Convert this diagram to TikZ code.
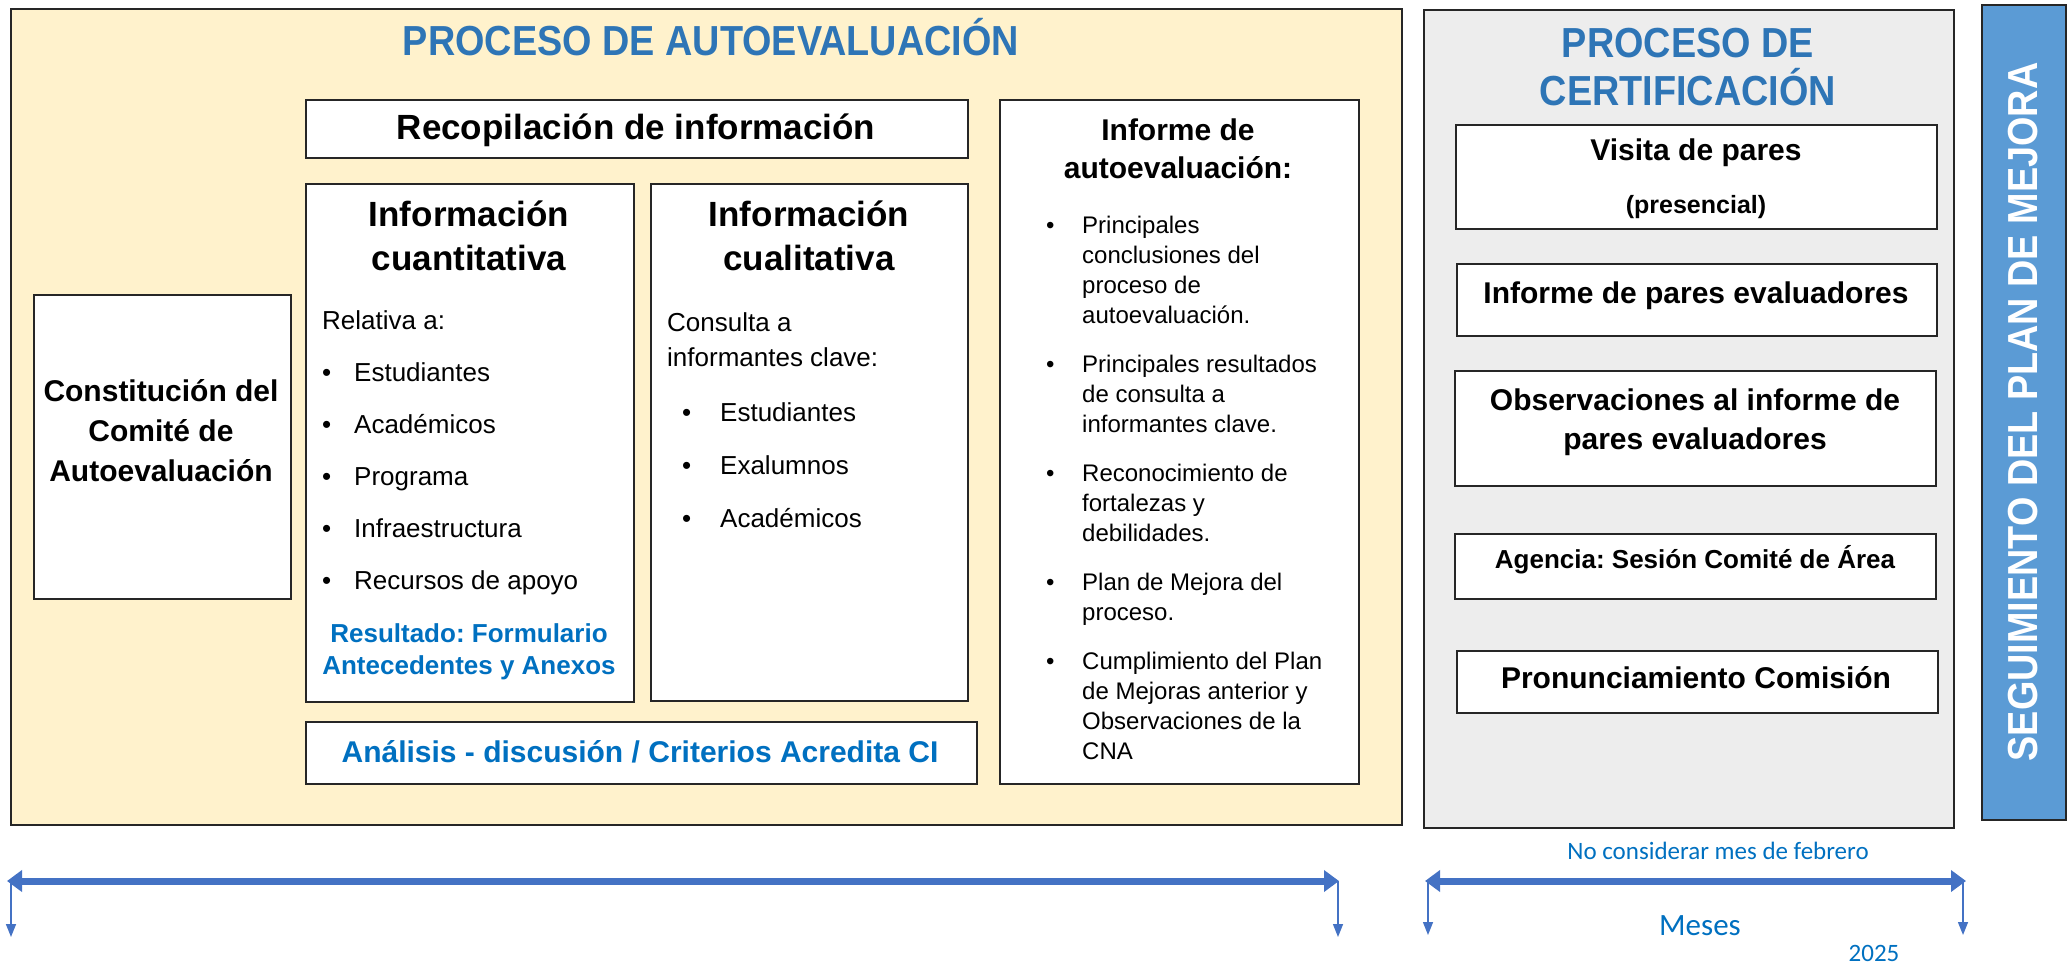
\documentclass[tikz,border=0pt]{standalone}
\usepackage{fontspec}
\setmainfont{Liberation Sans}
\newfontfamily\condfont{Liberation Sans}[FakeStretch=0.9]
\newfontfamily\calfont{Carlito}
\usetikzlibrary{arrows.meta}

\definecolor{autofill}{HTML}{FFF2CC}
\definecolor{certfill}{HTML}{EDEDED}
\definecolor{planfill}{HTML}{5B9BD5}
\definecolor{titleblue}{HTML}{2E75B6}
\definecolor{textblue}{HTML}{0070C0}
\definecolor{arrowblue}{HTML}{4472C4}
\definecolor{edge}{HTML}{262626}

\newcommand{\setsz}[2]{\fontsize{#1}{#2}\selectfont}
\newcommand{\itm}[1][32pt]{\makebox[#1][l]{\textbullet}}
\newcommand{\itmgap}{\hspace*{36pt}}
\frenchspacing

\begin{document}
\begin{tikzpicture}[
  x=1pt, y=-1pt,
  box/.style={draw=edge, line width=2pt, fill=white, inner sep=0pt, anchor=north west},
  txt/.style={inner sep=0pt},
  lst/.style={txt, align=left, anchor=north west},
  tl/.style={draw=arrowblue, line width=7pt, {Triangle[width=21pt,length=15pt]}-{Triangle[width=21pt,length=15pt]}},
  drop/.style={draw=arrowblue, line width=1.5pt, -{Triangle[width=10pt,length=13pt]}}
]
\useasboundingbox (0,0) rectangle (2068,964);

% Containers
\node[box, fill=autofill, minimum width=1391pt, minimum height=816pt] (auto) at (10,8) {};
\node[box, fill=certfill, minimum width=530pt, minimum height=818pt] (cert) at (1423,9) {};
\node[box, fill=planfill, minimum width=84pt, minimum height=815pt] (plan) at (1981,4) {};

% Titles
\node[txt, anchor=base, font=\condfont\bfseries\setsz{42}{48}, text=titleblue] (autotitle) at (711,55) {PROCESO DE AUTOEVALUACIÓN};
\node[txt, anchor=north, align=center, font=\condfont\bfseries\setsz{42}{48}, text=titleblue] (certtitle) at (1688,28) {PROCESO DE\\CERTIFICACIÓN};
\node[txt, rotate=90, font=\condfont\bfseries\setsz{42}{48}, text=white] (plantitle) at (2023,412) {SEGUIMIENTO DEL PLAN DE MEJORA};

% Autoevaluacion boxes
\node[box, minimum width=257pt, minimum height=304pt] (comite) at (33,294) {};
\node[box, minimum width=662pt, minimum height=58pt] (recop) at (305,99) {};
\node[box, minimum width=328pt, minimum height=518pt] (cuanti) at (305,183) {};
\node[box, minimum width=317pt, minimum height=517pt] (cuali) at (650,183) {};
\node[box, minimum width=671pt, minimum height=62pt] (analisis) at (305,721) {};
\node[box, minimum width=359pt, minimum height=684pt] (informe) at (999,99) {};

\node[txt, anchor=north, align=center, font=\bfseries\setsz{30}{40}] (comitetxt) at (161,379) {Constitución del\\Comité de\\Autoevaluación};
\node[txt, anchor=base, font=\bfseries\setsz{35}{44}] (recoptxt) at (636,139) {Recopilación de información};

\node[txt, anchor=north, align=center, font=\bfseries\setsz{35}{44}] (cuantihd) at (469,201) {Información\\cuantitativa};
\node[lst, font=\setsz{26}{52}] (cuantilst) at (322,310) {Relativa a:\\\itm Estudiantes\\\itm Académicos\\\itm Programa\\\itm Infraestructura\\\itm Recursos de apoyo};
\node[txt, anchor=north, align=center, font=\bfseries\setsz{26}{32}, text=textblue] (resultado) at (469,623) {Resultado: Formulario\\Antecedentes y Anexos};

\node[txt, anchor=north, align=center, font=\bfseries\setsz{35}{44}] (cualihd) at (809,201) {Información\\cualitativa};
\node[lst, font=\setsz{26}{35}] (consulta) at (667,312) {Consulta a\\informantes clave:};
\node[lst, font=\setsz{26}{53}] (cualilst) at (682,402) {\itm[38pt]Estudiantes\\\itm[38pt]Exalumnos\\\itm[38pt]Académicos};

\node[txt, anchor=base, font=\bfseries\setsz{30}{40}, text=textblue] (analisistxt) at (640,762) {Análisis - discusión / Criterios Acredita CI};

\node[txt, anchor=north, align=center, font=\bfseries\setsz{30}{38}] (informehd) at (1178,119) {Informe de\\autoevaluación:};
\node[lst, font=\setsz{24}{30}] (informelst) at (1046,216) {\itm[36pt]Principales\\\itmgap conclusiones del\\\itmgap proceso de\\\itmgap autoevaluación.\\[19pt]
  \itm[36pt]Principales resultados\\\itmgap de consulta a\\\itmgap informantes clave.\\[19pt]
  \itm[36pt]Reconocimiento de\\\itmgap fortalezas y\\\itmgap debilidades.\\[19pt]
  \itm[36pt]Plan de Mejora del\\\itmgap proceso.\\[19pt]
  \itm[36pt]Cumplimiento del Plan\\\itmgap de Mejoras anterior y\\\itmgap Observaciones de la\\\itmgap CNA};

% Certificacion boxes
\node[box, minimum width=481pt, minimum height=104pt] (visita) at (1455,124) {};
\node[box, minimum width=480pt, minimum height=72pt] (pares) at (1456,263) {};
\node[box, minimum width=481pt, minimum height=115pt] (obs) at (1454,370) {};
\node[box, minimum width=481pt, minimum height=65pt] (agencia) at (1454,533) {};
\node[box, minimum width=481pt, minimum height=62pt] (pron) at (1456,650) {};

\node[txt, anchor=base, font=\bfseries\setsz{30}{40}] (visitatxt) at (1696,160) {Visita de pares};
\node[txt, anchor=base, font=\bfseries\setsz{25}{30}] (presencial) at (1696,213) {(presencial)};
\node[txt, anchor=base, font=\bfseries\setsz{30}{40}] (parestxt) at (1696,303) {Informe de pares evaluadores};
\node[txt, anchor=north, align=center, font=\bfseries\setsz{30}{39}] (obstxt) at (1695,389) {Observaciones al informe de\\pares evaluadores};
\node[txt, anchor=base, font=\bfseries\setsz{26}{32}] (agenciatxt) at (1695,568) {Agencia: Sesión Comité de Área};
\node[txt, anchor=base, font=\bfseries\setsz{30}{40}] (prontxt) at (1696,688) {Pronunciamiento Comisión};

% Timeline
\coordinate (a1s) at (7,881);
\coordinate (a1e) at (1339,881);
\coordinate (a1sd) at (11,937);
\coordinate (a1ed) at (1338,937);
\coordinate (a2s) at (1425,881);
\coordinate (a2e) at (1966,881);
\coordinate (a2sd) at (1428,935);
\coordinate (a2ed) at (1963,935);

\draw[drop] (a1sd |- a1s) -- (a1sd);
\draw[drop] (a1ed |- a1e) -- (a1ed);
\draw[drop] (a2sd |- a2s) -- (a2sd);
\draw[drop] (a2ed |- a2e) -- (a2ed);
\draw[tl] (a1s) -- (a1e);
\draw[tl] (a2s) -- (a2e);

\node[txt, anchor=base, font=\calfont\setsz{25}{30}, text=textblue] (febrero) at (1718,859) {No considerar mes de febrero};
\node[txt, anchor=base, font=\calfont\setsz{31}{36}, text=textblue] (meses) at (1700,935) {Meses};
\node[txt, anchor=base, font=\calfont\setsz{25}{30}, text=textblue] (anio) at (1874,961) {2025};

\end{tikzpicture}
\end{document}
